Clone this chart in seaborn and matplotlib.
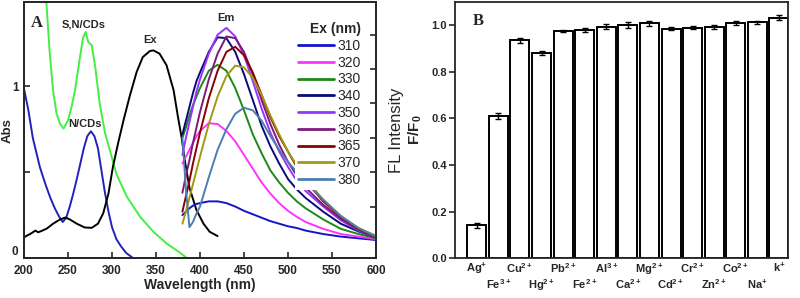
import numpy as np
import pandas as pd
import seaborn as sns
import matplotlib.pyplot as plt

sns.set_style("ticks")
plt.rcParams["font.family"] = ["Liberation Sans", "DejaVu Sans"]
plt.rcParams["font.weight"] = "bold"
plt.rcParams["axes.labelweight"] = "bold"
plt.rcParams["mathtext.fontset"] = "custom"
plt.rcParams["mathtext.rm"] = "Liberation Sans:bold"
plt.rcParams["mathtext.default"] = "rm"

# ---- panel A: absorbance / excitation ----
wl_ncd = [200, 205, 210, 218, 225, 230, 235, 240, 244, 248, 252, 256, 260, 264, 268,
          272, 276, 280, 284, 288, 292, 296, 300, 305, 310, 316, 324]
abs_ncd = [0.985, 0.86, 0.70, 0.53, 0.42, 0.35, 0.29, 0.24, 0.21, 0.235, 0.30, 0.376, 0.46,
           0.55, 0.64, 0.71, 0.738, 0.71, 0.64, 0.51, 0.38, 0.27, 0.18, 0.11, 0.07, 0.03, 0.0]

wl_sncd = [224, 229, 233, 237, 241, 245, 250, 254, 258, 263, 267, 270, 273, 277, 281, 286,
           292, 298, 305, 317, 332, 347, 362, 374, 384]
abs_sncd = [1.6, 1.21, 0.977, 0.841, 0.78, 0.754, 0.80, 0.88, 0.977, 1.15, 1.28, 1.316, 1.258,
            1.238, 1.11, 0.90, 0.73, 0.62, 0.49, 0.356, 0.24, 0.153, 0.085, 0.043, 0.005]

wl_ex = [200, 203, 207, 210, 213, 216, 220, 226, 233, 241, 247, 252, 260, 269, 277, 284, 290,
         296, 301, 307, 313, 320, 328, 335, 343, 347, 354, 362, 370, 375, 379, 383, 388, 396,
         404, 411, 420]
int_ex = [0.12, 0.13, 0.14, 0.15, 0.16, 0.15, 0.158, 0.172, 0.20, 0.225, 0.236, 0.225, 0.20,
          0.178, 0.176, 0.20, 0.26, 0.376, 0.53, 0.67, 0.80, 0.94, 1.083, 1.17, 1.205, 1.209,
          1.19, 1.122, 0.977, 0.82, 0.705, 0.56, 0.41, 0.279, 0.20, 0.153, 0.128]

# emission spectra at different excitation wavelengths
wl_em = [380, 384, 388, 392, 396, 400, 410, 420, 430, 440, 450, 460, 470, 480, 490, 500,
         510, 520, 540, 560, 580, 600]
em_310 = [0.25, 0.27, 0.29, 0.305, 0.315, 0.32, 0.33, 0.33, 0.32, 0.30, 0.275, 0.255, 0.235,
          0.215, 0.20, 0.185, 0.175, 0.16, 0.14, 0.125, 0.115, 0.105]
em_320 = [0.55, 0.59, 0.63, 0.67, 0.71, 0.74, 0.785, 0.78, 0.74, 0.68, 0.60, 0.52, 0.44,
          0.375, 0.32, 0.275, 0.24, 0.21, 0.17, 0.14, 0.125, 0.11]
em_330 = [0.70, 0.76, 0.83, 0.89, 0.94, 0.99, 1.09, 1.125, 1.09, 0.99, 0.86, 0.72, 0.61,
          0.51, 0.44, 0.38, 0.33, 0.29, 0.225, 0.17, 0.14, 0.115]
em_340 = [0.72, 0.80, 0.88, 0.96, 1.03, 1.08, 1.20, 1.285, 1.28, 1.20, 1.07, 0.92, 0.77,
          0.65, 0.55, 0.46, 0.40, 0.35, 0.27, 0.20, 0.155, 0.12]
em_350 = [0.60, 0.70, 0.79, 0.88, 0.97, 1.04, 1.19, 1.30, 1.34, 1.29, 1.18, 1.03, 0.87,
          0.73, 0.62, 0.53, 0.45, 0.39, 0.30, 0.22, 0.16, 0.12]
em_360 = [0.38, 0.48, 0.57, 0.67, 0.76, 0.85, 1.04, 1.19, 1.29, 1.28, 1.20, 1.07, 0.92,
          0.78, 0.66, 0.56, 0.48, 0.41, 0.31, 0.23, 0.165, 0.12]
em_365 = [0.27, 0.36, 0.45, 0.55, 0.64, 0.73, 0.93, 1.09, 1.20, 1.23, 1.18, 1.08, 0.95,
          0.82, 0.71, 0.62, 0.53, 0.45, 0.33, 0.24, 0.17, 0.125]
em_370 = [0.20, 0.27, 0.35, 0.43, 0.51, 0.59, 0.78, 0.94, 1.06, 1.12, 1.11, 1.05, 0.95,
          0.83, 0.72, 0.62, 0.54, 0.46, 0.34, 0.245, 0.175, 0.13]
em_380 = [0.70, 0.40, 0.18, 0.21, 0.26, 0.30, 0.47, 0.63, 0.75, 0.84, 0.875, 0.86, 0.80,
          0.71, 0.63, 0.56, 0.50, 0.44, 0.34, 0.245, 0.175, 0.125]
ex_labels = ["310", "320", "330", "340", "350", "360", "365", "370", "380"]
em_series = [em_310, em_320, em_330, em_340, em_350, em_360, em_365, em_370, em_380]
em_colors = ["#1414c8", "#ff33ff", "#1a8a1a", "#0a0a78", "#9933ff", "#7a1a7a",
             "#8b0000", "#a09a10", "#4a7fb0"]

# ---- panel B: selectivity ----
ions = ["Ag$^{+}$", "Fe$^{3+}$", "Cu$^{2+}$", "Hg$^{2+}$", "Pb$^{2+}$", "Fe$^{2+}$",
        "Al$^{3+}$", "Ca$^{2+}$", "Mg$^{2+}$", "Cd$^{2+}$", "Cr$^{2+}$", "Zn$^{2+}$",
        "Co$^{2+}$", "Na$^{+}$", "k$^{+}$"]
ratio = [0.14, 0.61, 0.935, 0.88, 0.975, 0.98, 0.995, 1.0, 1.008, 0.985, 0.99, 0.993,
         1.01, 1.013, 1.033]
ratio_err = [0.012, 0.013, 0.01, 0.008, 0.004, 0.008, 0.01, 0.013, 0.01, 0.007, 0.007,
             0.01, 0.01, 0.007, 0.012]

fig = plt.figure(figsize=(8, 2.98), dpi=100)
ax = fig.add_axes([0.03, 0.134, 0.44, 0.859])
ax2 = ax.twinx()
bx = fig.add_axes([0.569, 0.134, 0.416, 0.859])

lw = 1.4
sns.lineplot(x=wl_ncd, y=abs_ncd, ax=ax, color="#2222bb", lw=lw)
sns.lineplot(x=wl_sncd, y=abs_sncd, ax=ax, color="#44ee44", lw=lw)
sns.lineplot(x=wl_ex, y=int_ex, ax=ax, color="black", lw=lw)

for lab, vals, col in zip(ex_labels, em_series, em_colors):
    sns.lineplot(x=wl_em, y=vals, ax=ax2, color=col, lw=lw, label=lab)

ax.set_xlim(200, 600)
ax.set_ylim(0, 1.49)
ax2.set_ylim(0, 1.49)
ax.set_xticks(range(200, 601, 50))
ax.set_yticks([0, 0.5, 1])
ax.set_yticklabels(["0", "", "1"])
ax.get_yticklabels()[0].set_va("bottom")
ax2.set_yticks([0.3, 0.5, 0.7, 0.9, 1.1, 1.3])
ax2.set_yticklabels([])
ax.tick_params(axis="x", direction="in", length=4, width=1.2, labelsize=8.5, pad=5)
ax.tick_params(axis="y", direction="in", length=4, width=1.2, labelsize=8.5, pad=4)
ax2.tick_params(direction="in", length=4, width=1.2)
ax.set_xlabel("Wavelength (nm)", fontsize=10, labelpad=1)
ax.set_ylabel("Abs", fontsize=9.5, labelpad=-1)
ax2.set_ylabel("FL Intensity", fontsize=12, fontweight="normal", labelpad=6)

ax.text(215, 1.37, "A", family="Liberation Serif", fontsize=12, fontweight="bold",
        ha="center", va="center")
ax.text(268, 1.36, "S,N/CDs", fontsize=8, ha="center", va="center")
ax.text(269, 0.78, "N/CDs", fontsize=8, ha="center", va="center")
ax.text(343, 1.267, "Ex", fontsize=8, ha="center", va="center")
ax.text(429, 1.40, "Em", fontsize=8, ha="center", va="center")

leg = ax2.legend(title="Ex (nm)", loc="upper right", bbox_to_anchor=(0.985, 0.96),
                 frameon=True, facecolor="white", edgecolor="none", framealpha=1,
                 fancybox=False, prop={"size": 10, "weight": "normal"},
                 title_fontproperties={"size": 10, "weight": "bold"},
                 handlelength=2.6, handletextpad=0.25, labelspacing=0.2,
                 borderpad=0.2, alignment="right")
for h in leg.get_lines():
    h.set_linewidth(2)

for a in (ax, ax2):
    for s in a.spines.values():
        s.set_linewidth(1.3)

# panel B bars
x_pos = np.arange(len(ions))
sns.barplot(x=x_pos, y=ratio, ax=bx, color="white", edgecolor="black", linewidth=1.4,
            width=0.88, native_scale=True)
bx.errorbar(x_pos, ratio, yerr=ratio_err, fmt="none", ecolor="black", elinewidth=1,
            capsize=2.2, capthick=1)
bx.set_xlim(-1.0, 14.42)
bx.set_ylim(0, 1.1)
bx.set_yticks(np.arange(0, 1.01, 0.2))
bx.set_yticklabels([f"{v:.1f}" for v in np.arange(0, 1.01, 0.2)])
# alternate tick labels on two rows: even on top (major), odd below (minor)
bx.set_xticks(x_pos[::2])
bx.set_xticklabels(ions[::2])
bx.set_xticks(x_pos[1::2], minor=True)
bx.set_xticklabels(ions[1::2], minor=True)
bx.tick_params(axis="x", which="both", direction="in", length=3, width=1.2, labelsize=8)
bx.tick_params(axis="x", which="major", pad=2)
bx.tick_params(axis="x", which="minor", pad=14)
bx.tick_params(axis="y", direction="out", length=4, width=1.2, labelsize=8, pad=2)
bx.set_ylabel("F/F$_0$", fontsize=11, labelpad=5)
bx.set_xlabel("")
for s in bx.spines.values():
    s.set_linewidth(1.3)
bx.text(0.07, 0.925, "B", transform=bx.transAxes, family="Liberation Serif",
        fontsize=12, fontweight="bold", ha="center", va="center")

fig.savefig("out.png", dpi=100)
